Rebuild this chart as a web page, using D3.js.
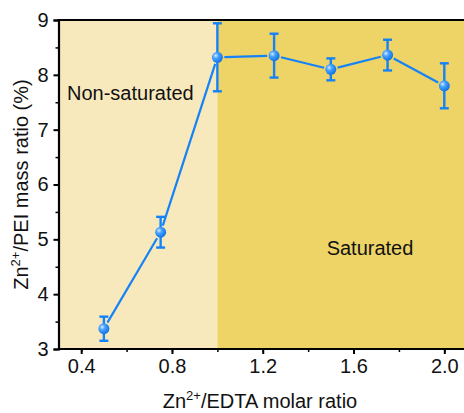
<!DOCTYPE html>
<html><head><meta charset="utf-8">
<script src="https://cdn.jsdelivr.net/npm/d3@7"></script>
<style>html,body{margin:0;padding:0;background:#fff;}svg{display:block;font-family:Arial,"Liberation Sans",sans-serif;}</style>
</head><body>
<script>
const ratios = [0.5, 0.75, 1.0, 1.25, 1.5, 1.75, 2.0];
const massRatio = [3.37, 5.13, 8.32, 8.35, 8.10, 8.36, 7.80];
const errors = [0.22, 0.28, 0.62, 0.40, 0.20, 0.28, 0.41];
const xTicks = [0.4, 0.8, 1.2, 1.6, 2.0];
const yTicks = [3, 4, 5, 6, 7, 8, 9];
const regions = [{from: 0.3, to: 1.0, label: "Non-saturated"}, {from: 1.0, to: 2.1, label: "Saturated"}];

const W = 464, H = 413;
const FS = 20;
const svg = d3.select("body").append("svg").attr("width", W).attr("height", H);
const x = d3.scaleLinear().domain([0.3, 2.1]).range([58.5, 467]);
const y = d3.scaleLinear().domain([3, 9]).range([349, 20]);

const defs = svg.append("defs");
const g = defs.append("radialGradient").attr("id","ball").attr("cx","0.35").attr("cy","0.35").attr("r","0.7");
g.append("stop").attr("offset","0%").attr("stop-color","#d8ecff");
g.append("stop").attr("offset","35%").attr("stop-color","#4aa3ff");
g.append("stop").attr("offset","100%").attr("stop-color","#0a6fe6");

// regions
svg.selectAll("rect.reg").data(regions).enter().append("rect")
  .attr("x", d => x(d.from)).attr("y", y(9))
  .attr("width", d => x(d.to) - x(d.from)).attr("height", y(3) - y(9))
  .attr("fill", (d,i) => i === 0 ? "#f8e9bd" : "#eed467");

// axes
const xMinor = d3.range(0.4, 2.05, 0.2);
svg.append("g").attr("transform", `translate(0,${y(3)})`)
  .call(d3.axisBottom(x).tickValues(xMinor).tickSize(3).tickFormat(""))
  .call(a => a.select(".domain").remove())
  .call(a => a.selectAll("line").attr("stroke-width", 1.5));
const xAxis = svg.append("g").attr("transform", `translate(0,${y(3)})`)
  .call(d3.axisBottom(x).tickValues(xTicks).tickSize(5).tickPadding(5).tickFormat(d3.format(".1f")));
xAxis.select(".domain").attr("stroke-width", 2.2).attr("d", `M${x(0.3)},0H${W}`);
xAxis.selectAll("line").attr("stroke-width", 2);
xAxis.selectAll("text").attr("font-size", FS).attr("fill", "#111").attr("font-family", "Arial, 'Liberation Sans', sans-serif");

svg.append("g").attr("transform", `translate(${x(0.3)},0)`)
  .call(d3.axisLeft(y).tickValues(d3.range(3.5, 9, 1)).tickSize(3).tickFormat(""))
  .call(a => a.select(".domain").remove())
  .call(a => a.selectAll("line").attr("stroke-width", 1.5));
const yAxis = svg.append("g").attr("transform", `translate(${x(0.3)},0)`)
  .call(d3.axisLeft(y).tickValues(yTicks).tickSize(5).tickPadding(5).tickFormat(d3.format("d")));
yAxis.select(".domain").attr("stroke-width", 2.2);
yAxis.selectAll("line").attr("stroke-width", 2);
yAxis.selectAll("text").attr("font-size", FS).attr("fill", "#111").attr("font-family", "Arial, 'Liberation Sans', sans-serif");

// top border
svg.append("line").attr("x1", x(0.3) - 1).attr("x2", W).attr("y1", y(9)).attr("y2", y(9))
  .attr("stroke", "#000").attr("stroke-width", 2.2);

// region labels
svg.append("text").attr("x", 67).attr("y", 100).attr("font-size", FS).attr("fill", "#111").text(regions[0].label);
svg.append("text").attr("x", 370).attr("y", 255).attr("font-size", FS).attr("fill", "#111").attr("text-anchor","middle").text(regions[1].label);

// line segments with gaps
const pts = ratios.map((r,i) => [x(r), y(massRatio[i])]);
const gap = 7;
const segs = [];
for (let i = 0; i < pts.length - 1; i++) {
  const [x1,y1] = pts[i], [x2,y2] = pts[i+1];
  const L = Math.hypot(x2-x1, y2-y1), ux = (x2-x1)/L, uy = (y2-y1)/L;
  segs.push([x1+ux*gap, y1+uy*gap, x2-ux*gap, y2-uy*gap]);
}
svg.selectAll("line.seg").data(segs).enter().append("line")
  .attr("x1", d=>d[0]).attr("y1", d=>d[1]).attr("x2", d=>d[2]).attr("y2", d=>d[3])
  .attr("stroke", "#1582f7").attr("stroke-width", 2.2);

// error bars
const eb = svg.append("g").attr("stroke", "#1582f7").attr("stroke-width", 2.4);
ratios.forEach((r,i) => {
  const cx = x(r), t = y(massRatio[i] + errors[i]), b = y(massRatio[i] - errors[i]);
  eb.append("line").attr("x1", cx).attr("x2", cx).attr("y1", t).attr("y2", b);
  eb.append("line").attr("x1", cx-4.5).attr("x2", cx+4.5).attr("y1", t).attr("y2", t);
  eb.append("line").attr("x1", cx-4.5).attr("x2", cx+4.5).attr("y1", b).attr("y2", b);
});

// markers
svg.selectAll("circle.pt").data(ratios).enter().append("circle")
  .attr("cx", d => x(d)).attr("cy", (d,i) => y(massRatio[i])).attr("r", 5.5)
  .attr("fill", "url(#ball)");

// axis titles
const xt = svg.append("text").attr("x", 260).attr("y", 408).attr("text-anchor", "middle").attr("font-size", FS).attr("fill", "#111");
xt.append("tspan").text("Zn");
xt.append("tspan").attr("font-size", 13).attr("dy", -8).text("2+");
xt.append("tspan").attr("dy", 8).text("/EDTA molar ratio");

const yt = svg.append("text").attr("transform", `translate(28,${y(6)}) rotate(-90)`).attr("text-anchor", "middle").attr("font-size", FS).attr("fill", "#111");
yt.append("tspan").text("Zn");
yt.append("tspan").attr("font-size", 13).attr("dy", -8).text("2+");
yt.append("tspan").attr("dy", 8).text("/PEI mass ratio (%)");
</script>
</body></html>
